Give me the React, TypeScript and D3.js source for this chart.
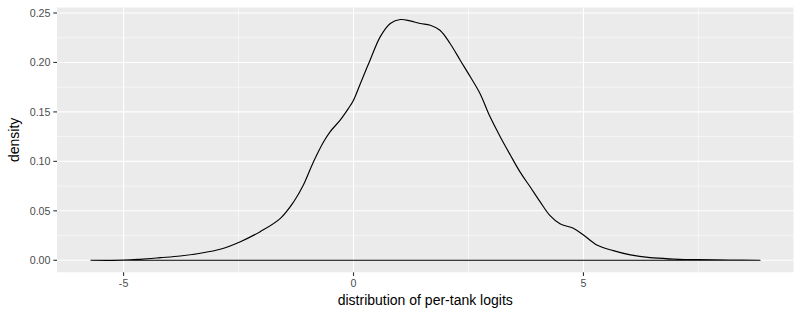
import React from "react";
import * as d3 from "d3";

const xValues = [-5.72, -5.0, -4.64, -4.2, -3.77, -3.33, -2.9, -2.46, -2.03, -1.59, -1.3, -1.09, -0.87, -0.65, -0.51, -0.29, -0.11, 0, 0.15, 0.36, 0.58, 0.8, 1.02, 1.23, 1.45, 1.67, 1.88, 2.1, 2.32, 2.54, 2.75, 2.97, 3.19, 3.41, 3.62, 3.84, 4.06, 4.28, 4.49, 4.78, 5.0, 5.29, 5.65, 6.02, 6.45, 6.96, 7.47, 8.19, 8.84];
const densityValues = [0, 0.0001, 0.001, 0.0026, 0.0043, 0.0071, 0.0111, 0.0188, 0.0289, 0.0424, 0.0592, 0.0761, 0.0996, 0.1198, 0.1299, 0.1417, 0.1536, 0.1619, 0.1788, 0.2023, 0.2259, 0.2394, 0.2434, 0.242, 0.2394, 0.2377, 0.2326, 0.2192, 0.2023, 0.1855, 0.1686, 0.145, 0.1249, 0.1064, 0.0894, 0.0743, 0.059, 0.0448, 0.0368, 0.0323, 0.0256, 0.0155, 0.0097, 0.0054, 0.0026, 0.0013, 0.0006, 0.0003, 0];

const xTicks = [-5, 0, 5];
const xTickLabels = ["-5", "0", "5"];
const xMinor = [-2.5, 2.5, 7.5];
const yTicks = [0, 0.05, 0.1, 0.15, 0.2, 0.25];
const yTickLabels = ["0.00", "0.05", "0.10", "0.15", "0.20", "0.25"];
const yMinor = [0.025, 0.075, 0.125, 0.175, 0.225];

const xTitle = "distribution of per-tank logits";
const yTitle = "density";

export default function App() {
  const W = 800, H = 318;
  const left = 57, right = 793.5, top = 7.5, bottom = 272.3;
  const xMin = d3.min(xValues)!, xMax = d3.max(xValues)!;
  const xPad = (xMax - xMin) * 0.05;
  const yMax = d3.max(densityValues)!;
  const yPad = yMax * 0.05;
  const x = d3.scaleLinear().domain([xMin - xPad, xMax + xPad]).range([left, right]);
  const y = d3.scaleLinear().domain([-yPad, yMax + yPad]).range([bottom, top]);

  const pts: [number, number][] = xValues.map((v, i) => [v, densityValues[i]]);
  const line = d3.line<[number, number]>().x(d => x(d[0])).y(d => y(d[1])).curve(d3.curveCatmullRom.alpha(0.5));
  const upper = line(pts) || "";
  const baseline = `L${x(xMin)},${y(0)}`;

  const font = "'Liberation Sans', Arial, sans-serif";

  return (
    <svg width={W} height={H} style={{ position: "absolute", left: 0, top: 0, background: "#fff" }}>
      <rect x={left} y={top} width={right - left} height={bottom - top} fill="#EBEBEB" />
      {xMinor.map(v => (
        <line key={"xm" + v} x1={x(v)} x2={x(v)} y1={top} y2={bottom} stroke="#fff" strokeWidth={0.55} />
      ))}
      {yMinor.map(v => (
        <line key={"ym" + v} x1={left} x2={right} y1={y(v)} y2={y(v)} stroke="#fff" strokeWidth={0.55} />
      ))}
      {xTicks.map(v => (
        <line key={"xg" + v} x1={x(v)} x2={x(v)} y1={top} y2={bottom} stroke="#fff" strokeWidth={1.1} />
      ))}
      {yTicks.map(v => (
        <line key={"yg" + v} x1={left} x2={right} y1={y(v)} y2={y(v)} stroke="#fff" strokeWidth={1.1} />
      ))}
      <path d={upper + baseline} fill="none" stroke="#000" strokeWidth={1.15} strokeLinejoin="round" />
      {xTicks.map((v, i) => (
        <g key={"xt" + v}>
          <line x1={x(v)} x2={x(v)} y1={bottom} y2={bottom + 3.7} stroke="#333" strokeWidth={1.1} />
          <text x={x(v)} y={bottom + 15} textAnchor="middle" fontFamily={font} fontSize={10.7} fill="#4D4D4D">{xTickLabels[i]}</text>
        </g>
      ))}
      {yTicks.map((v, i) => (
        <g key={"yt" + v}>
          <line x1={left - 3.7} x2={left} y1={y(v)} y2={y(v)} stroke="#333" strokeWidth={1.1} />
          <text x={left - 6.5} y={y(v) + 3.8} textAnchor="end" fontFamily={font} fontSize={10.7} fill="#4D4D4D">{yTickLabels[i]}</text>
        </g>
      ))}
      <text x={(left + right) / 2} y={305} textAnchor="middle" fontFamily={font} fontSize={14} fill="#000">{xTitle}</text>
      <text transform={`translate(18.5,${(top + bottom) / 2}) rotate(-90)`} textAnchor="middle" fontFamily={font} fontSize={14} fill="#000">{yTitle}</text>
    </svg>
  );
}
